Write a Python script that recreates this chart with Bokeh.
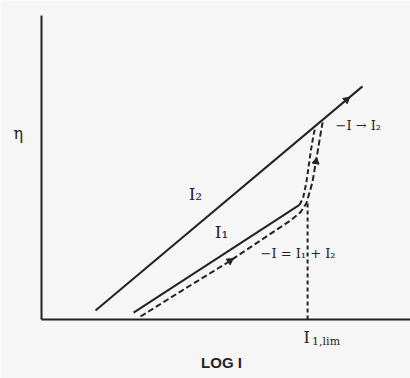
import numpy as np
from bokeh.plotting import figure
from bokeh.models import Range1d
from bokeh.core.properties import value
from bokeh.embed import file_html
from bokeh.resources import INLINE

# ---- data (log I on x, overpotential eta on y, arbitrary units) ----
axis_x_end = 12.3
axis_y_end = 10.13

i2_logI = [1.8, 10.7]
i2_eta = [0.3, 7.77]

i1_logI = [3.07, 8.6]
i1_eta = [0.23, 3.82]

i1lim_logI = [8.6, 8.72, 8.83, 8.97, 9.07, 9.13]
i1lim_eta = [3.82, 4.05, 4.57, 5.57, 6.17, 6.4]

tot_logI = [3.3, 4.63, 6.2, 8.3, 8.63, 8.83, 9.03, 9.2, 9.3, 9.37]
tot_eta = [0.1, 0.93, 1.9, 3.3, 3.57, 3.87, 4.57, 5.57, 6.17, 6.57]

lim_x = 8.87
lim_top = 3.9

INK = "#232323"
SERIF = value("DejaVu Serif")

p = figure(width=410, height=378, output_backend="svg", toolbar_location=None,
           x_range=Range1d(-1.367, 12.3), y_range=Range1d(-1.967, 10.633),
           x_axis_location=None, y_axis_location=None, min_border=0,
           background_fill_color="#f6f6f6", border_fill_color="#f6f6f6",
           outline_line_color=None)
p.grid.visible = False

# axes drawn as lines in data space
p.line([0, 0], [0, axis_y_end], line_color=INK, line_width=2)
p.line([0, axis_x_end], [0, 0], line_color=INK, line_width=2)

# curves
p.line(i2_logI, i2_eta, line_color=INK, line_width=2)
p.line(i1_logI, i1_eta, line_color=INK, line_width=2)
p.line(i1lim_logI, i1lim_eta, line_color=INK, line_width=2, line_dash="5 3")
p.line(tot_logI, tot_eta, line_color=INK, line_width=2, line_dash="6 3")
p.line([lim_x, lim_x], [0, lim_top], line_color=INK, line_width=2, line_dash="4 3")

# arrowheads along the curves
def head(xs, ys, t):
    xs = np.asarray(xs, float); ys = np.asarray(ys, float)
    seg = np.hypot(np.diff(xs), np.diff(ys))
    cum = np.concatenate([[0], np.cumsum(seg)])
    s = t * cum[-1]
    k = min(np.searchsorted(cum, s) - 1, len(seg) - 1)
    k = max(k, 0)
    f = (s - cum[k]) / seg[k]
    x = xs[k] + f * (xs[k + 1] - xs[k]); y = ys[k] + f * (ys[k + 1] - ys[k])
    ang = np.arctan2(ys[k + 1] - ys[k], xs[k + 1] - xs[k]) - np.pi / 2
    return x, y, ang

hx, hy, ha = [], [], []
for xs, ys, t in [(i2_logI, i2_eta, 0.94), (tot_logI, tot_eta, 0.37), (tot_logI, tot_eta, 0.86)]:
    x, y, a = head(xs, ys, t)
    hx.append(x); hy.append(y); ha.append(a)
p.scatter(hx, hy, angle=ha, marker="triangle", size=7, fill_color=INK, line_color=INK)

# labels
p.text([-0.77], [6.2], text=["η"], text_font=SERIF, text_font_size="16px",
       text_align="center", text_baseline="middle", text_color=INK)
p.text([5.13], [4.17], text=["I₂"], text_font=SERIF, text_font_size="17px",
       text_align="center", text_baseline="middle", text_color=INK)
p.text([6.0], [2.93], text=["I₁"], text_font=SERIF, text_font_size="17px",
       text_align="center", text_baseline="middle", text_color=INK)
p.text([9.8], [6.47], text=["−I → I₂"], text_font=SERIF, text_font_size="13px",
       text_align="left", text_baseline="middle", text_color=INK)
p.text([7.3], [2.2], text=["−I = I₁ + I₂"], text_font=SERIF, text_font_size="13px",
       text_align="left", text_baseline="middle", text_color=INK)
p.text([8.73], [-0.6], text=["I"], text_font=SERIF, text_font_size="16px",
       text_align="left", text_baseline="middle", text_color=INK)
p.text([9.02], [-0.75], text=["1,lim"], text_font=SERIF, text_font_size="11px",
       text_align="left", text_baseline="middle", text_color=INK)
p.text([6.0], [-1.43], text=["LOG I"], text_font=value("Liberation Sans"),
       text_font_size="15px", text_font_style="bold",
       text_align="center", text_baseline="middle", text_color=INK)

open("out.html", "w").write(file_html(p, INLINE))
